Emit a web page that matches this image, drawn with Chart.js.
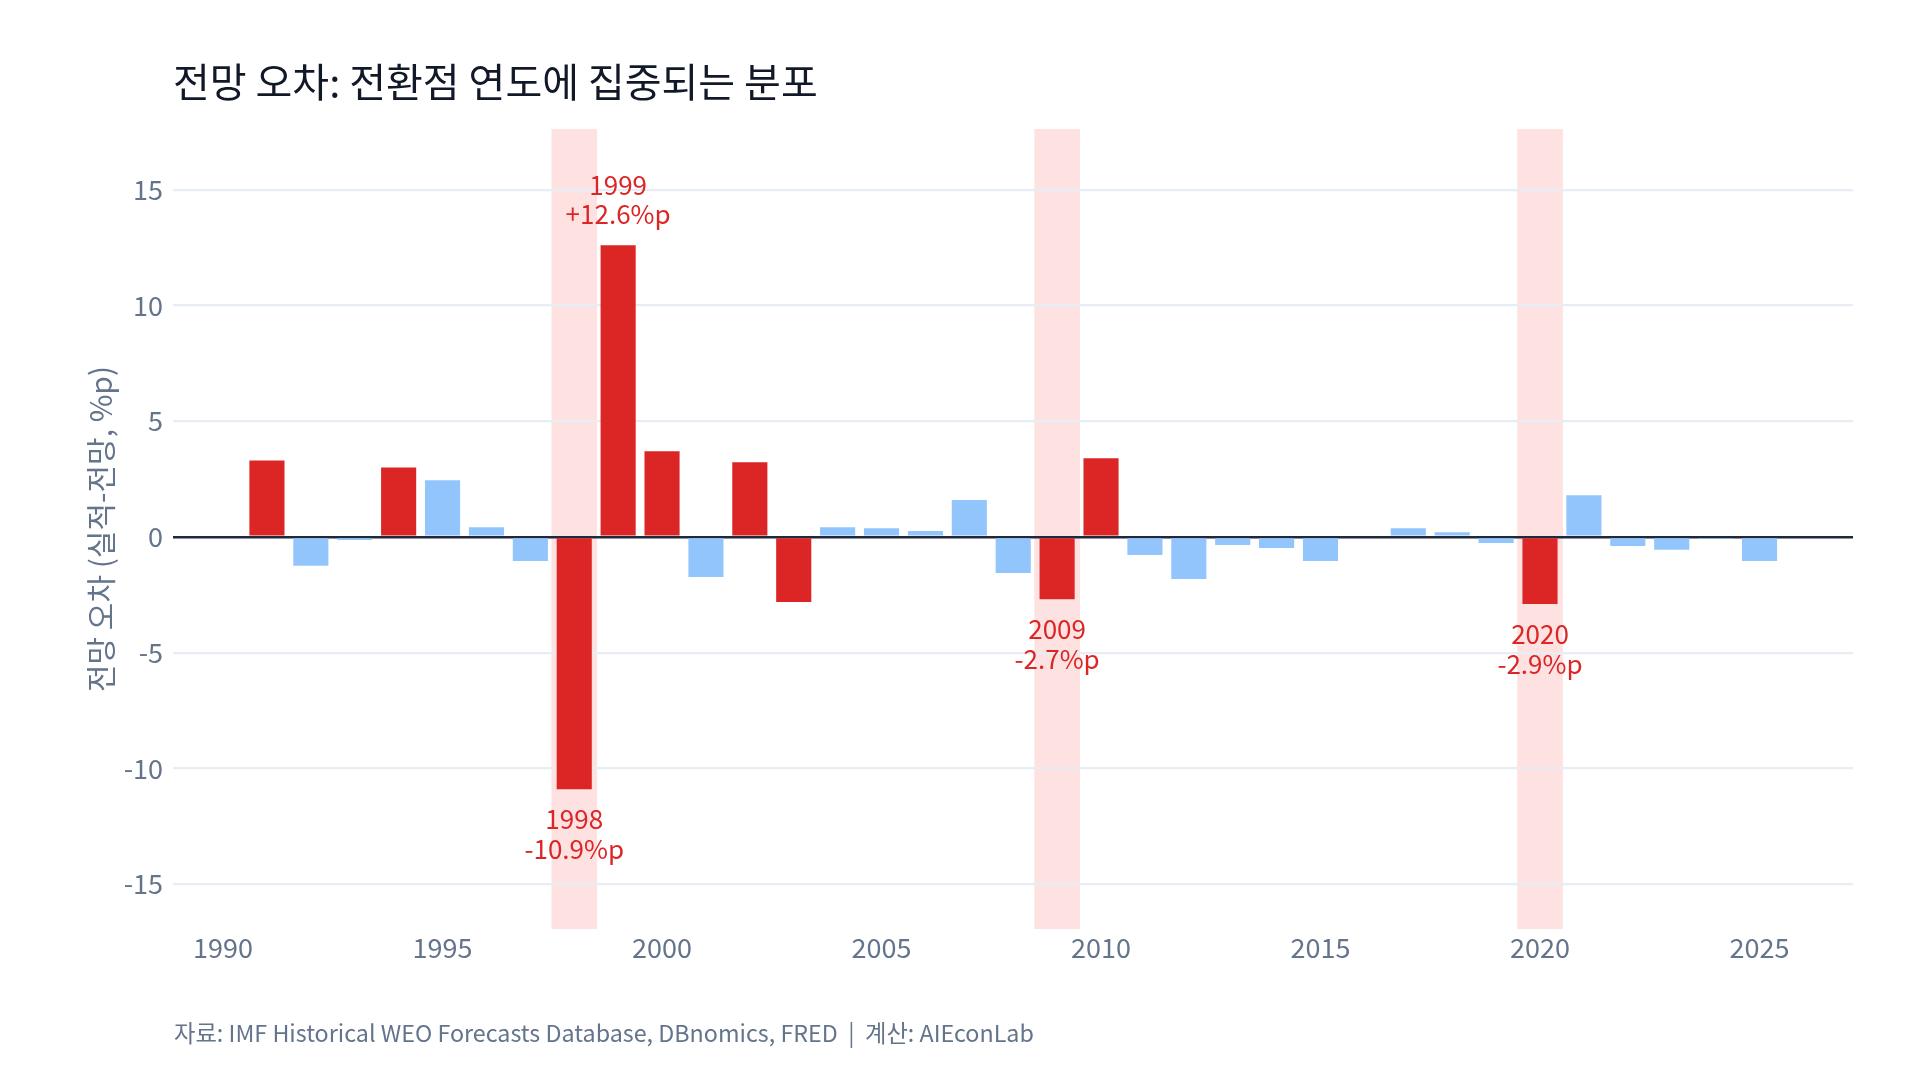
<!DOCTYPE html>
<html>
<head>
<meta charset="utf-8">
<script src="https://cdn.jsdelivr.net/npm/chart.js@4.4.0/dist/chart.umd.min.js"></script>
<style>
html,body{margin:0;padding:0;background:#ffffff;}
#wrap{position:relative;width:1920px;height:1080px;overflow:hidden;background:#fff;}
#chart{position:absolute;left:0;top:0;}
#title{position:absolute;left:173px;top:56px;font-family:'Noto Sans CJK KR','Noto Sans',sans-serif;font-size:40px;line-height:48px;color:#111827;white-space:nowrap;}
#source{position:absolute;left:174px;top:1016px;font-family:'Noto Sans CJK KR','Noto Sans',sans-serif;font-size:23.3px;line-height:32px;color:#64748b;white-space:pre;}
</style>
</head>
<body>
<div id="wrap">
  <canvas id="chart" width="1920" height="1080"></canvas>
  <div id="title">전망 오차: 전환점 연도에 집중되는 분포</div>
  <div id="source">자료: IMF Historical WEO Forecasts Database, DBnomics, FRED  |  계산: AIEconLab</div>
</div>
<script>
// ---- data ----
const years = [1991,1992,1993,1994,1995,1996,1997,1998,1999,2000,
               2001,2002,2003,2004,2005,2006,2007,2008,2009,2010,
               2011,2012,2013,2014,2015,2016,2017,2018,2019,2020,
               2021,2022,2023,2024,2025];
const errors = [3.3,-1.25,-0.13,3.0,2.45,0.42,-1.04,-10.9,12.6,3.7,
                -1.73,3.22,-2.81,0.42,0.37,0.25,1.59,-1.56,-2.7,3.4,
                -0.78,-1.82,-0.35,-0.48,-1.04,0,0.37,0.2,-0.26,-2.9,
                1.8,-0.39,-0.56,-0.08,-1.04];
const turningYears = [1998, 2009, 2020];
const labelYears = [1998, 1999, 2009, 2020];
const yTicks = [-15,-10,-5,0,5,10,15];
const xTicks = [1990,1995,2000,2005,2010,2015,2020,2025];
const bigThreshold = 2.5;

const RED = '#dc2626', BLUE = '#93c5fd', SHADE = '#fee2e2';
const FONT = "'Noto Sans CJK KR','Noto Sans',sans-serif";
const TICK_COLOR = '#64748b';

const points = years.map((y,i)=>({x:y, y:errors[i]}));
const colors = errors.map(v => Math.abs(v) >= bigThreshold ? RED : BLUE);

const shadePlugin = {
  id:'shade',
  beforeDraw(chart){
    const {ctx, chartArea:a, scales:{x}} = chart;
    ctx.save();
    ctx.fillStyle = SHADE;
    turningYears.forEach(yr=>{
      const l = x.getPixelForValue(yr-0.52), r = x.getPixelForValue(yr+0.52);
      ctx.fillRect(l, a.top, r-l, a.bottom-a.top);
    });
    ctx.restore();
  }
};

const labelPlugin = {
  id:'labels',
  afterDatasetsDraw(chart){
    const {ctx, scales:{x,y}} = chart;
    ctx.save();
    ctx.font = `26px ${FONT}`;
    ctx.fillStyle = RED;
    ctx.textAlign = 'center';
    ctx.textBaseline = 'middle';
    labelYears.forEach(yr=>{
      const i = years.indexOf(yr);
      const v = errors[i];
      const px = x.getPixelForValue(yr);
      const py = y.getPixelForValue(v);
      const l1 = String(yr);
      const l2 = (v>0?'+':'-') + Math.abs(v).toFixed(1) + '%p';
      if (v > 0) {
        ctx.fillText(l2, px, py - 31);
        ctx.fillText(l1, px, py - 60);
      } else {
        ctx.fillText(l1, px, py + 30);
        ctx.fillText(l2, px, py + 60);
      }
    });
    ctx.restore();
  }
};

new Chart(document.getElementById('chart'), {
  type:'bar',
  data:{
    datasets:[{
      data: points,
      backgroundColor: colors,
      borderWidth:0,
      barPercentage:0.8,
      categoryPercentage:1.0
    }]
  },
  options:{
    responsive:false,
    animation:false,
    devicePixelRatio:1,
    layout:{padding:{left:83,top:129,right:67,bottom:101}},
    plugins:{legend:{display:false},tooltip:{enabled:false}},
    scales:{
      x:{
        type:'linear',
        offset:false,
        min:1988.86, max:2027.13,
        grid:{display:false, drawTicks:false, offset:false},
        border:{display:false},
        afterBuildTicks(s){ s.ticks = xTicks.map(v=>({value:v})); },
        afterFit(s){ s.height = 50; },
        ticks:{
          padding:3,
          color:TICK_COLOR,
          font:{family:FONT, size:27},
          callback:v=>String(v),
          maxRotation:0, autoSkip:false
        }
      },
      y:{
        min:-16.94, max:17.62,
        afterBuildTicks(s){ s.ticks = yTicks.map(v=>({value:v})); },
        afterFit(s){ s.width = 90; },
        grid:{
          drawTicks:false,
          color:c=> c.tick && c.tick.value===0 ? '#1e293b' : '#e8ecf3',
          lineWidth:c=> c.tick && c.tick.value===0 ? 2.6 : 2.2
        },
        border:{display:false},
        ticks:{
          padding:10,
          color:TICK_COLOR,
          font:{family:FONT, size:27},
          callback:v=> v<0 ? '-'+Math.abs(v) : String(v)
        },
        title:{
          display:true,
          text:'전망 오차 (실적-전망, %p)',
          color:TICK_COLOR,
          font:{family:FONT, size:30},
          padding:{top:0,bottom:0}
        }
      }
    }
  },
  plugins:[shadePlugin, labelPlugin]
});
</script>
</body>
</html>
